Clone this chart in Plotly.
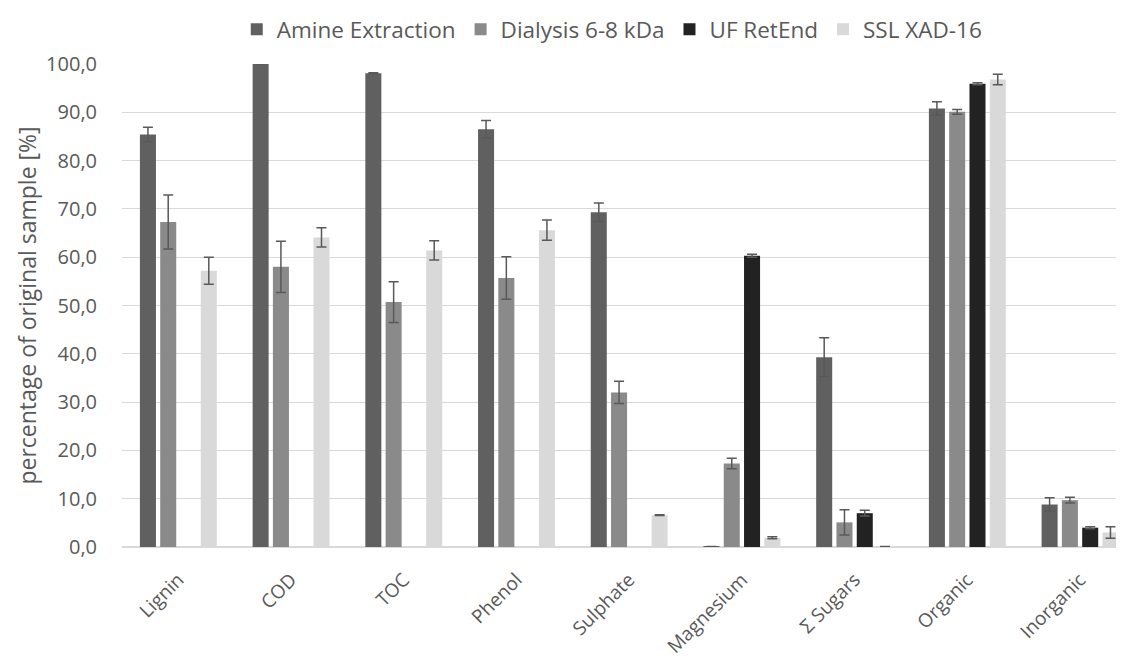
import plotly.graph_objects as go

categories = ["Lignin", "COD", "TOC", "Phenol", "Sulphate", "Magnesium", "Σ Sugars", "Organic", "Inorganic"]

amine = [85.4, 100.0, 98.1, 86.5, 69.3, 0.1, 39.3, 90.8, 8.8]
amine_err = [1.5, 0.0, 0.1, 1.8, 1.9, 0.0, 4.0, 1.4, 1.4]

dialysis = [67.3, 58.0, 50.7, 55.7, 32.0, 17.3, 5.1, 90.1, 9.7]
dialysis_err = [5.6, 5.3, 4.2, 4.4, 2.3, 1.1, 2.6, 0.5, 0.6]

uf = [None, None, None, None, None, 60.3, 7.0, 95.9, 4.0]
uf_err = [0, 0, 0, 0, 0, 0.3, 0.6, 0.2, 0.2]

ssl = [57.2, 64.1, 61.4, 65.6, 6.6, 1.9, 0.1, 96.8, 3.0]
ssl_err = [2.8, 2.0, 2.0, 2.1, 0.1, 0.2, 0.0, 1.1, 1.2]

series = [
    ("Amine Extraction", amine, amine_err, "#606060"),
    ("Dialysis 6-8 kDa", dialysis, dialysis_err, "#8a8a8a"),
    ("UF RetEnd", uf, uf_err, "#222222"),
    ("SSL XAD-16", ssl, ssl_err, "#d9d9d9"),
]

fig = go.Figure()
for name, vals, errs, col in series:
    fig.add_trace(go.Bar(
        name=name, x=categories, y=vals,
        marker=dict(color=col, line=dict(width=0)),
        error_y=dict(type="data", array=errs, color="#595959", thickness=1.5, width=5),
    ))

fig.update_layout(
    width=1116, height=655,
    barmode="group", bargap=0.28, bargroupgap=0.21,
    plot_bgcolor="white", paper_bgcolor="white",
    margin=dict(l=114, r=0, t=56, b=116),
    font=dict(family="Open Sans", color="#595959"),
    separators=",.",
    legend=dict(
        orientation="h", xref="container", yref="container",
        x=0.541, xanchor="center", y=1.0, yanchor="top",
        font=dict(size=22.5, color="#595959"), itemsizing="constant",
        traceorder="normal",
    ),
    xaxis=dict(
        range=[-0.5, 8.39], tickangle=-45, showgrid=False,
        tickfont=dict(size=19, color="#595959"),
        showline=False, ticks="", ticklabelstandoff=17,
    ),
    yaxis=dict(
        range=[0, 100], dtick=10, tickformat=".1f",
        gridcolor="#d9d9d9", gridwidth=1,
        zeroline=True, zerolinecolor="#d9d9d9", zerolinewidth=1.5,
        tickfont=dict(size=20, color="#595959"),
        ticks="", ticklabelstandoff=24,
        title=dict(text="percentage of original sample [%]", font=dict(size=23, color="#595959"), standoff=3),
    ),
)

fig.write_html("out.html")
